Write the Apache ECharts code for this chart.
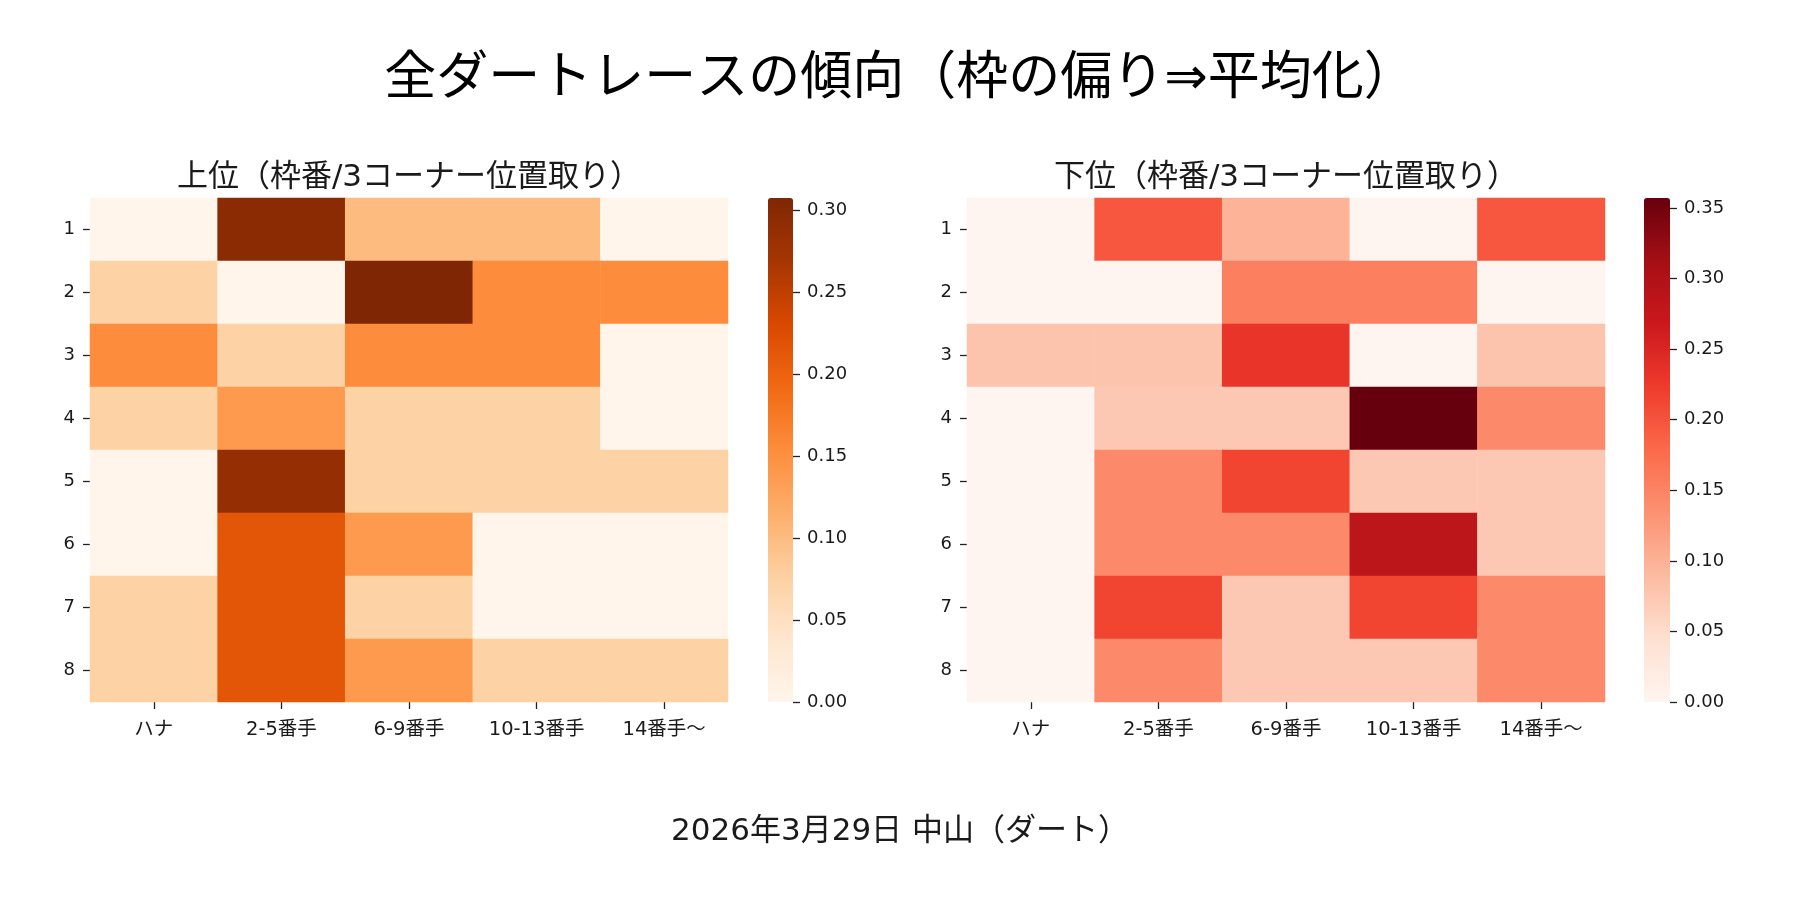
<!DOCTYPE html>
<html>
<head>
<meta charset="utf-8">
<script src="https://cdn.jsdelivr.net/npm/echarts@6/dist/echarts.min.js"></script>
<style>html,body{margin:0;padding:0;background:#fff}#c{width:1800px;height:900px}</style>
</head>
<body>
<div id="c"></div>
<script>
// ---- data ----
const mainTitle = '全ダートレースの傾向（枠の偏り⇒平均化）';
const leftTitle = '上位（枠番/3コーナー位置取り）';
const rightTitle = '下位（枠番/3コーナー位置取り）';
const footer = '2026年3月29日 中山（ダート）';
const positions = ['ハナ', '2-5番手', '6-9番手', '10-13番手', '14番手〜'];
const waku = ['1', '2', '3', '4', '5', '6', '7', '8'];
// top finishers (rows = 枠 1..8, cols = positions)
const topRows = [
  [0.000, 0.297, 0.101, 0.101, 0.000],
  [0.074, 0.000, 0.308, 0.154, 0.154],
  [0.154, 0.074, 0.154, 0.154, 0.000],
  [0.074, 0.139, 0.074, 0.074, 0.000],
  [0.000, 0.286, 0.074, 0.074, 0.074],
  [0.000, 0.215, 0.139, 0.000, 0.000],
  [0.074, 0.215, 0.074, 0.000, 0.000],
  [0.074, 0.215, 0.139, 0.074, 0.074]
];
// bottom finishers
const bottomRows = [
  [0.000, 0.197, 0.098, 0.000, 0.197],
  [0.000, 0.000, 0.155, 0.155, 0.000],
  [0.079, 0.079, 0.232, 0.000, 0.079],
  [0.000, 0.073, 0.073, 0.357, 0.143],
  [0.000, 0.143, 0.214, 0.073, 0.073],
  [0.000, 0.143, 0.143, 0.285, 0.073],
  [0.000, 0.214, 0.073, 0.214, 0.143],
  [0.000, 0.143, 0.073, 0.073, 0.143]
];
const topMax = 0.3077;      // colour scale max (top)
const bottomMax = 0.3571;   // colour scale max (bottom)
const topTickMax = 0.30;    // last colorbar tick
const bottomTickMax = 0.35;
const tickStep = 0.05;
// colormaps (matplotlib Oranges / Reds)
const oranges = ['#fff5eb','#fee6ce','#fdd0a2','#fdae6b','#fd8d3c','#f16913','#d94801','#a63603','#7f2704'];
const reds = ['#fff5f0','#fee0d2','#fcbba1','#fc9272','#fb6a4a','#ef3b2c','#cb181d','#a50f15','#67000d'];

function toCells(rows) {
  const out = [];
  rows.forEach((r, ri) => r.forEach((v, ci) => out.push([ci, ri, v])));
  return out;
}

const FONT = "'DejaVu Sans', 'Noto Sans CJK JP', sans-serif";
const TXT = '#1a1a1a';
const L = {x0: 90, x1: 728, cb0: 768, cb1: 793};
const R = {x0: 967, x1: 1605, cb0: 1644, cb1: 1670};
const TOP = 198, BOT = 702, H = BOT - TOP;
// colorbar tick axis spans 0..last tick
const topCbTop = TOP + H * (1 - topTickMax / topMax);
const botCbTop = TOP + H * (1 - bottomTickMax / bottomMax);

function heatXAxis(gi) {
  return {
    type: 'category', gridIndex: gi, data: positions,
    axisLine: {show: false},
    axisTick: {show: true, alignWithLabel: true, length: 7, lineStyle: {color: '#222', width: 1.3}},
    axisLabel: {fontSize: 19.5, color: TXT, fontFamily: FONT, margin: 18},
    splitLine: {show: false}
  };
}
function heatYAxis(gi) {
  return {
    type: 'category', gridIndex: gi, data: waku, inverse: true,
    axisLine: {show: false},
    axisTick: {show: true, alignWithLabel: true, length: 7, lineStyle: {color: '#222', width: 1.3}},
    axisLabel: {fontSize: 18, color: TXT, fontFamily: FONT, margin: 15},
    splitLine: {show: false}
  };
}
function cbYAxis(gi, max) {
  return {
    type: 'value', gridIndex: gi, min: 0, max: max, interval: tickStep, position: 'right', z: 10,
    axisLine: {show: false, onZero: false},
    axisTick: {show: true, length: 7, lineStyle: {color: '#222', width: 1.3}},
    axisLabel: {fontSize: 18, color: TXT, fontFamily: FONT, margin: 14,
      formatter: v => v.toFixed(2)},
    splitLine: {show: false}
  };
}

const chart = echarts.init(document.getElementById('c'));
chart.setOption({
  backgroundColor: '#fff',
  animation: false,
  grid: [
    {left: L.x0, top: TOP, width: L.x1 - L.x0, height: H},
    {left: R.x0, top: TOP, width: R.x1 - R.x0, height: H},
    {left: L.cb0, top: topCbTop, width: L.cb1 - L.cb0, height: BOT - topCbTop},
    {left: R.cb0, top: botCbTop, width: R.cb1 - R.cb0, height: BOT - botCbTop}
  ],
  xAxis: [
    heatXAxis(0), heatXAxis(1),
    {type: 'value', gridIndex: 2, show: false, min: 0, max: 1},
    {type: 'value', gridIndex: 3, show: false, min: 0, max: 1}
  ],
  yAxis: [
    heatYAxis(0), heatYAxis(1),
    cbYAxis(2, topTickMax), cbYAxis(3, bottomTickMax)
  ],
  visualMap: [
    {type: 'continuous', seriesIndex: 0, dimension: 2, min: 0, max: topMax,
     calculable: false, hoverLink: false, orient: 'vertical', padding: 0,
     left: L.cb0, top: TOP, itemWidth: L.cb1 - L.cb0, itemHeight: H,
     text: null, showLabel: false, inRange: {color: oranges}},
    {type: 'continuous', seriesIndex: 1, dimension: 2, min: 0, max: bottomMax,
     calculable: false, hoverLink: false, orient: 'vertical', padding: 0,
     left: R.cb0, top: TOP, itemWidth: R.cb1 - R.cb0, itemHeight: H,
     text: null, showLabel: false, inRange: {color: reds}}
  ],
  series: [
    {type: 'heatmap', xAxisIndex: 0, yAxisIndex: 0, data: toCells(topRows),
     emphasis: {disabled: true}, itemStyle: {borderWidth: 0}},
    {type: 'heatmap', xAxisIndex: 1, yAxisIndex: 1, data: toCells(bottomRows),
     emphasis: {disabled: true}, itemStyle: {borderWidth: 0}},
    {type: 'scatter', xAxisIndex: 2, yAxisIndex: 2, data: [], silent: true},
    {type: 'scatter', xAxisIndex: 3, yAxisIndex: 3, data: [], silent: true}
  ],
  graphic: [
    {type: 'text', x: 900, y: 80, style: {text: mainTitle, fontSize: 52, fontFamily: FONT, fill: '#000',
      textAlign: 'center', textVerticalAlign: 'middle'}},
    {type: 'text', x: (L.x0 + L.x1) / 2, y: 178, style: {text: leftTitle, fontSize: 31, fontFamily: FONT, fill: TXT,
      textAlign: 'center', textVerticalAlign: 'middle'}},
    {type: 'text', x: (R.x0 + R.x1) / 2, y: 178, style: {text: rightTitle, fontSize: 31, fontFamily: FONT, fill: TXT,
      textAlign: 'center', textVerticalAlign: 'middle'}},
    {type: 'text', x: 900, y: 832, style: {text: footer, fontSize: 31, fontFamily: FONT, fill: TXT,
      textAlign: 'center', textVerticalAlign: 'middle'}}
  ]
});
</script>
</body>
</html>
